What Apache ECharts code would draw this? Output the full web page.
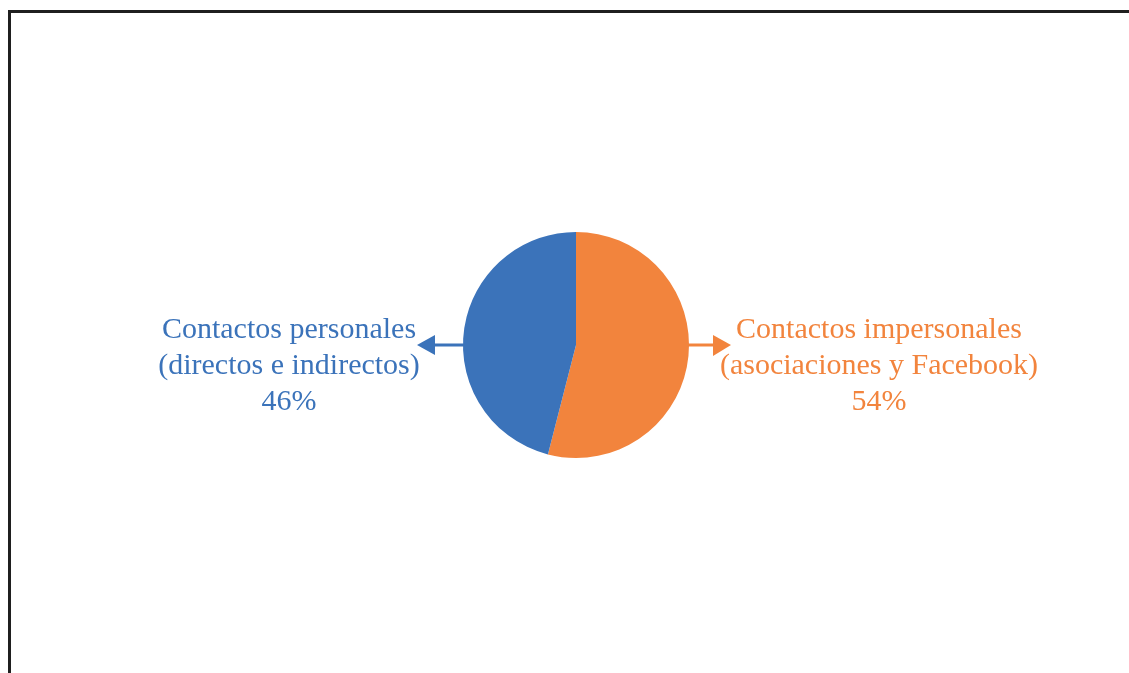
<!DOCTYPE html>
<html>
<head>
<meta charset="utf-8">
<style>
  html, body { margin: 0; padding: 0; background: #ffffff; }
  #chart { width: 1129px; height: 673px; }
</style>
<script src="https://cdn.jsdelivr.net/npm/echarts@6/dist/echarts.min.js"></script>
</head>
<body>
<div id="chart"></div>
<script>
// Slice data, in drawing order (clockwise from 12 o'clock)
const sliceNames = ['Contactos impersonales', 'Contactos personales'];
const sliceDetails = ['(asociaciones y Facebook)', '(directos e indirectos)'];
const sliceValues = [54, 46];
const sliceColors = ['#F2843D', '#3B73BA'];

// Where each slice's caption block is centred
const labelAnchors = [
  { x: 879, y: 366 },
  { x: 289, y: 366 }
];

const pieCenter = [576, 345];
const pieRadius = 113;

const chart = echarts.init(document.getElementById('chart'), null, { renderer: 'canvas' });

const fontFamily = '"Liberation Serif", "DejaVu Serif", serif';

chart.setOption({
  backgroundColor: '#ffffff',
  animation: false,
  series: [{
    type: 'pie',
    center: pieCenter,
    radius: pieRadius,
    startAngle: 90,
    clockwise: true,
    silent: true,
    itemStyle: { borderWidth: 0 },
    label: {
      show: true,
      position: 'outside',
      fontFamily: fontFamily,
      fontSize: 30,
      lineHeight: 36,
      align: 'center',
      formatter: function (p) {
        return sliceNames[p.dataIndex] + '\n' + sliceDetails[p.dataIndex] + '\n' + p.value + '%';
      }
    },
    labelLine: { show: false },
    labelLayout: function (params) {
      const a = labelAnchors[params.dataIndex];
      return { x: a.x, y: a.y, align: 'center', verticalAlign: 'middle' };
    },
    data: sliceValues.map(function (v, i) {
      return {
        name: sliceNames[i],
        value: v,
        itemStyle: { color: sliceColors[i] },
        label: { color: sliceColors[i] }
      };
    })
  }],
  graphic: [
    // frame
    {
      type: 'rect',
      shape: { x: 9.5, y: 11.5, width: 1300, height: 900 },
      style: { fill: 'none', stroke: '#1f1f1f', lineWidth: 3 },
      silent: true
    },
    // arrow to the personal-contacts caption
    {
      type: 'line',
      shape: { x1: pieCenter[0] - pieRadius + 2, y1: 345, x2: 432, y2: 345 },
      style: { stroke: sliceColors[1], lineWidth: 3 },
      silent: true
    },
    {
      type: 'polygon',
      shape: { points: [[417, 345], [435, 335], [435, 355]] },
      style: { fill: sliceColors[1] },
      silent: true
    },
    // arrow to the impersonal-contacts caption
    {
      type: 'line',
      shape: { x1: pieCenter[0] + pieRadius - 2, y1: 345, x2: 715, y2: 345 },
      style: { stroke: sliceColors[0], lineWidth: 3 },
      silent: true
    },
    {
      type: 'polygon',
      shape: { points: [[731, 345], [713, 335], [713, 356]] },
      style: { fill: sliceColors[0] },
      silent: true
    }
  ]
});
</script>
</body>
</html>
